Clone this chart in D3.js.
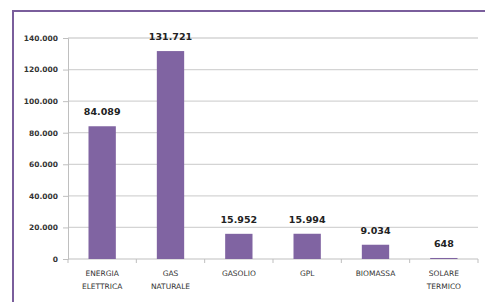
<!DOCTYPE html>
<html>
<head>
<meta charset="utf-8">
<script src="https://cdn.jsdelivr.net/npm/d3@7"></script>
<style>
  body { margin: 0; background: #fff; }
  svg { display: block; }
</style>
</head>
<body>
<div id="container"></div>
<script>
var categories = [["ENERGIA", "ELETTRICA"], ["GAS", "NATURALE"], ["GASOLIO"], ["GPL"], ["BIOMASSA"], ["SOLARE", "TERMICO"]];
var values = [84089, 131721, 15952, 15994, 9034, 648];
var valueLabels = ["84.089", "131.721", "15.952", "15.994", "9.034", "648"];
var yTicks = [0, 20000, 40000, 60000, 80000, 100000, 120000, 140000];
var yTickLabels = ["0", "20.000", "40.000", "60.000", "80.000", "100.000", "120.000", "140.000"];

var W = 485, H = 302;
var margin = {top: 38, left: 68, right: 7, bottom: 43};
var width = W - margin.left - margin.right,
    height = H - margin.top - margin.bottom;

var svg = d3.select("#container").append("svg")
    .attr("width", W)
    .attr("height", H);

// frame
svg.append("rect")
    .attr("x", 13).attr("y", 11)
    .attr("width", 500).attr("height", 320)
    .attr("fill", "none")
    .attr("stroke", "#7a5e9c")
    .attr("stroke-width", 2);

var g = svg.append("g")
    .attr("transform", "translate(" + margin.left + "," + margin.top + ")");

var x = d3.scaleBand().domain(d3.range(categories.length)).range([0, width]).paddingInner(0.6).paddingOuter(0.3);
var y = d3.scaleLinear().domain([0, 140000]).range([height, 0]);

// gridlines
g.selectAll(".grid")
    .data(yTicks.slice(1))
    .enter().append("line")
    .attr("x1", 0).attr("x2", width)
    .attr("y1", function(d) { return y(d); })
    .attr("y2", function(d) { return y(d); })
    .attr("stroke", "#d4d4d4")
    .attr("stroke-width", 1.3);

// y axis
var yAxis = g.append("g")
    .call(d3.axisLeft(y).tickValues(yTicks).tickSize(5).tickPadding(5)
        .tickFormat(function(d, i) { return yTickLabels[i]; }));
yAxis.select(".domain").attr("stroke", "#bfbfbf");
yAxis.selectAll(".tick line").attr("stroke", "#bfbfbf");
yAxis.selectAll("text")
    .attr("font-family", "DejaVu Sans, sans-serif")
    .attr("font-size", "7.5px")
    .attr("font-weight", "bold")
    .attr("fill", "#333");

// x axis
var band = width / categories.length;
var xAxisG = g.append("g").attr("transform", "translate(0," + height + ")");
xAxisG.append("line")
    .attr("x1", 0).attr("x2", width)
    .attr("stroke", "#bfbfbf");
xAxisG.selectAll(".xt")
    .data(d3.range(categories.length + 1))
    .enter().append("line")
    .attr("x1", function(d) { return d * band; })
    .attr("x2", function(d) { return d * band; })
    .attr("y1", 0).attr("y2", 4)
    .attr("stroke", "#bfbfbf");

xAxisG.selectAll(".xl")
    .data(categories)
    .enter().append("text")
    .attr("text-anchor", "middle")
    .attr("font-family", "DejaVu Sans, sans-serif")
    .attr("font-size", "7.5px")
    .attr("fill", "#333")
    .attr("transform", function(d, i) { return "translate(" + (x(i) + x.bandwidth() / 2) + ",17)"; })
    .each(function(d) {
        var t = d3.select(this);
        d.forEach(function(line, j) {
            t.append("tspan").attr("x", 0).attr("dy", j === 0 ? 0 : 13).text(line);
        });
    });

// bars
g.selectAll(".bar")
    .data(values)
    .enter().append("rect")
    .attr("class", "bar")
    .attr("x", function(d, i) { return x(i); })
    .attr("y", function(d) { return y(d); })
    .attr("width", x.bandwidth())
    .attr("height", function(d) { return height - y(d); })
    .attr("fill", "#8064a2");

// value labels
g.selectAll(".vl")
    .data(values)
    .enter().append("text")
    .attr("x", function(d, i) { return x(i) + x.bandwidth() / 2; })
    .attr("y", function(d) { return y(d) - 11; })
    .attr("text-anchor", "middle")
    .attr("font-family", "DejaVu Sans, sans-serif")
    .attr("font-size", "9.5px")
    .attr("font-weight", "bold")
    .attr("fill", "#222")
    .text(function(d, i) { return valueLabels[i]; });
</script>
</body>
</html>
